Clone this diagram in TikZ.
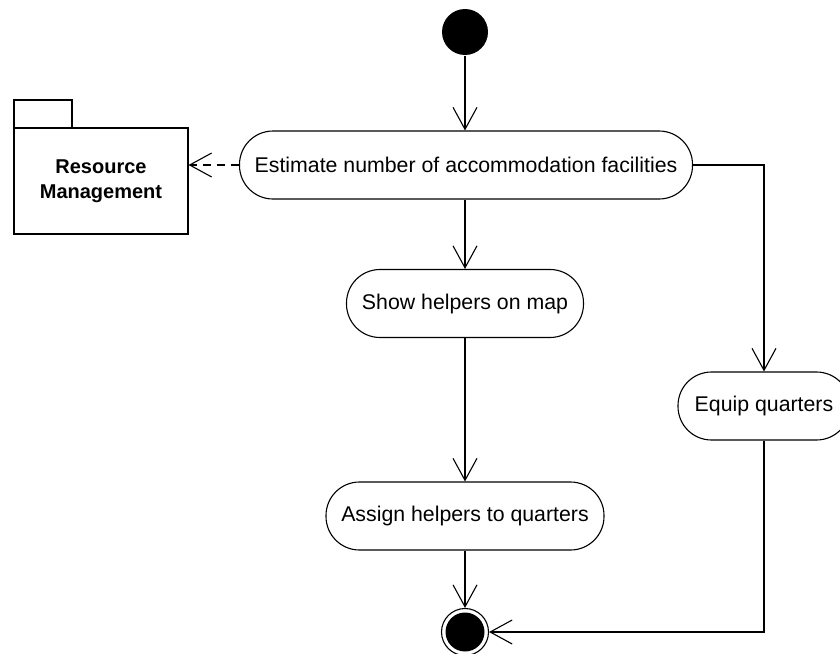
\documentclass[tikz,border=0pt]{standalone}
\usepackage{fontspec}
\setmainfont{Liberation Sans}
\usetikzlibrary{arrows.meta}
\begin{document}
\begin{tikzpicture}[x=1pt,y=-1pt,
  line width=1.1pt,
  flow/.style={-{Straight Barb[length=22pt,width=24pt,line width=1.1pt]}},
  action/.style={draw, rectangle, rounded corners=33.5pt, minimum height=68pt, inner sep=0pt, font=\fontsize{21.3}{25}\selectfont},
  pkgtext/.style={font=\fontsize{20}{24.5}\selectfont\bfseries, align=center}]
\useasboundingbox (0,0) rectangle (840,653);
% start
\node[circle, fill=black, minimum size=46pt, inner sep=0pt] (start) at (465,32) {};
% actions
\node[action, minimum width=453pt] (est) at (466,165) {Estimate number of accommodation facilities};
\node[action, minimum width=237pt] (show) at (465,303.5) {Show helpers on map};
\node[action, minimum width=278pt] (assign) at (465,516) {Assign helpers to quarters};
\node[action, minimum width=172pt] (equip) at (764,406) {Equip quarters};
% package
\draw (14,128) rectangle (72,100);
\node[draw, minimum width=174pt, minimum height=106pt, inner sep=0pt, pkgtext] (pkg) at (101,181) {Resource\\Management};
% final
\node[circle, draw, minimum size=47pt, inner sep=0pt] (final) at (465,632) {};
\fill (final.center) circle (19.5pt);
% connectors
\draw[flow] (start) -- (start |- est.north);
\draw[flow, dash pattern=on 8pt off 6pt] (est.west) -- (est.west -| pkg.east);
\draw[flow] (show.north |- est.south) -- (show.north);
\draw[flow] (show.south) -- (assign.north);
\draw[flow] (assign.south) -- (final.north);
\draw[flow] (est.east) -| (equip.north);
\draw[flow] (equip.south) |- (final.east);
\end{tikzpicture}
\end{document}
